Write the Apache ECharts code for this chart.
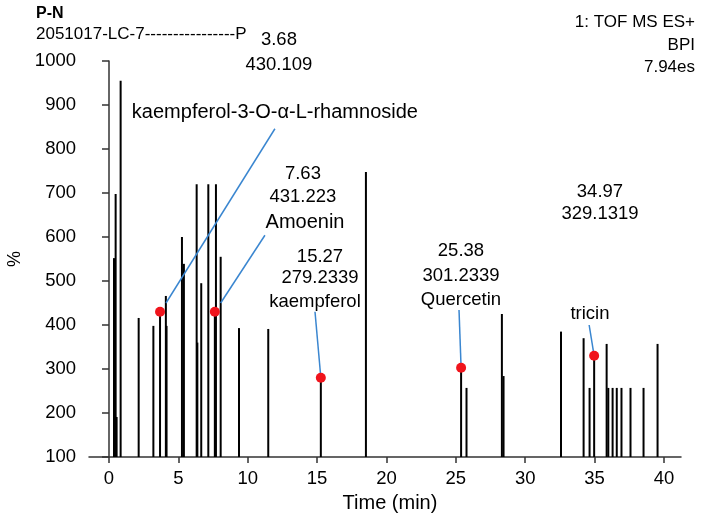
<!DOCTYPE html>
<html>
<head>
<meta charset="utf-8">
<script src="https://cdn.jsdelivr.net/npm/echarts@6/dist/echarts.min.js"></script>
<style>
  html, body { margin: 0; padding: 0; background: #fff; }
  #chart { width: 705px; height: 525px; }
</style>
</head>
<body>
<div id="chart"></div>
<script>
// peak retention times (min) and BPI intensities (%)
const peakTimes = [0.36, 0.48, 0.55, 0.84, 2.14, 3.2, 3.68, 4.1, 4.15, 5.26, 5.4, 6.32, 6.37, 6.65, 7.16, 7.63, 7.71, 8.05, 9.37, 11.48,
  15.27, 18.52, 25.38, 25.77, 28.32, 28.44, 32.58, 34.21, 34.64, 34.97, 35.87, 35.99, 36.3, 36.6, 36.94, 37.59, 38.53, 39.54];
const peakValues = [552, 698, 191, 955, 416, 398, 425, 466, 398, 600, 539, 720, 360, 495, 720, 430, 720, 555, 393, 391,
  280, 748, 303, 257, 425, 284, 385, 370, 257, 330, 357, 257, 257, 257, 257, 257, 257, 357];

// annotated compounds
const annoTimes = [3.68, 7.63, 15.27, 25.38, 34.97];
const annoValues = [430, 430, 280, 303, 330];
const annoRt = ['3.68', '7.63', '15.27', '25.38', '34.97'];
const annoMz = ['430.109', '431.223', '279.2339', '301.2339', '329.1319'];
const annoNames = ['kaempferol-3-O-α-L-rhamnoside', 'Amoenin', 'kaempferol', 'Quercetin', 'tricin'];

const xTicks = [0, 5, 10, 15, 20, 25, 30, 35, 40];

const FONT = '"Liberation Sans", Arial, sans-serif';

// where the labels sit (data coords) and the leader lines [x1, y1, x2, y2]
const textPos = [
  { rt: [12.25, 1047], mz: [12.25, 991], name: [11.96, 882], nameSize: 20 },
  { rt: [13.98, 743], mz: [13.98, 691], name: [14.13, 634], nameSize: 20 },
  { rt: [15.21, 555], mz: [15.21, 507], name: [14.85, 453], nameSize: 18.5 },
  { rt: [25.37, 568], mz: [25.37, 512], name: [25.37, 457], nameSize: 18.5 },
  { rt: [35.39, 702], mz: [35.39, 652], name: [34.67, 425], nameSize: 18.5 }
];
const leaders = [
  [4.11, 450, 11.96, 846],
  [8.05, 450, 11.24, 604],
  [14.85, 430, annoTimes[2], annoValues[2]],
  [25.23, 434, annoTimes[3], annoValues[3]],
  [34.61, 400, annoTimes[4], annoValues[4]]
];

const labelData = [];
annoNames.forEach((n, i) => {
  const p = textPos[i];
  labelData.push({ value: p.rt, text: annoRt[i], size: 18.5 });
  labelData.push({ value: p.mz, text: annoMz[i], size: 18.5 });
  labelData.push({ value: p.name, text: n, size: p.nameSize });
});

const chart = echarts.init(document.getElementById('chart'));
chart.setOption({
  animation: false,
  backgroundColor: '#fff',
  grid: { left: 89, right: 24, top: 61, bottom: 68, outerBoundsMode: 'none' },
  xAxis: {
    type: 'value',
    min: -1.44,
    max: 41.23,
    name: 'Time (min)',
    nameLocation: 'middle',
    nameGap: 36,
    nameTextStyle: { fontSize: 20, color: '#000', fontFamily: FONT, padding: [0, 0, 0, 10] },
    axisLine: { show: true, lineStyle: { color: '#333', width: 1.5 } },
    axisTick: { show: true, length: 6, lineStyle: { color: '#333', width: 1.5 }, customValues: xTicks },
    axisLabel: { fontSize: 18.5, color: '#000', fontFamily: FONT, margin: 12, customValues: xTicks },
    splitLine: { show: false }
  },
  yAxis: {
    type: 'value',
    min: 100,
    max: 1000,
    interval: 100,
    name: '%',
    nameLocation: 'middle',
    nameRotate: 90,
    nameGap: 60,
    nameTextStyle: { fontSize: 18, color: '#000', fontFamily: FONT },
    axisLine: { show: true, lineStyle: { color: '#333', width: 1.5 } },
    axisTick: { show: true, length: 7, lineStyle: { color: '#333', width: 1.5 } },
    axisLabel: { fontSize: 18.5, color: '#000', fontFamily: FONT, margin: 13, formatter: v => String(v) },
    splitLine: { show: false }
  },
  graphic: [
    { type: 'text', left: 36, top: 6, style: { text: 'P-N', fontSize: 16, fontWeight: 'bold', fill: '#000', fontFamily: FONT } },
    { type: 'text', left: 36, top: 26, style: { text: '2051017-LC-7----------------P', fontSize: 17, fill: '#000', fontFamily: FONT } },
    { type: 'text', x: 695, y: 22, style: { text: '1: TOF MS ES+', fontSize: 17, fill: '#000', fontFamily: FONT, align: 'right', verticalAlign: 'middle' } },
    { type: 'text', x: 695, y: 45, style: { text: 'BPI', fontSize: 17, fill: '#000', fontFamily: FONT, align: 'right', verticalAlign: 'middle' } },
    { type: 'text', x: 695, y: 67, style: { text: '7.94es', fontSize: 17, fill: '#000', fontFamily: FONT, align: 'right', verticalAlign: 'middle' } }
  ],
  series: [
    {
      name: 'peaks',
      type: 'custom',
      data: peakTimes.map((t, i) => [t, peakValues[i]]),
      encode: { x: 0, y: 1 },
      renderItem: function (params, api) {
        const top = api.coord([api.value(0), api.value(1)]);
        const base = api.coord([api.value(0), 100]);
        return {
          type: 'line',
          shape: { x1: top[0], y1: top[1], x2: base[0], y2: base[1] },
          style: { stroke: '#000', lineWidth: 2 }
        };
      },
      z: 2
    },
    {
      name: 'leaders',
      type: 'custom',
      data: leaders,
      encode: { x: [0, 2], y: [1, 3] },
      clip: false,
      renderItem: function (params, api) {
        const a = api.coord([api.value(0), api.value(1)]);
        const b = api.coord([api.value(2), api.value(3)]);
        return {
          type: 'line',
          shape: { x1: a[0], y1: a[1], x2: b[0], y2: b[1] },
          style: { stroke: '#3a86d0', lineWidth: 1.5 }
        };
      },
      z: 3
    },
    {
      name: 'marked',
      type: 'scatter',
      data: annoTimes.map((t, i) => [t, annoValues[i]]),
      symbolSize: 10,
      itemStyle: { color: '#f0141c', opacity: 1 },
      z: 5
    },
    {
      name: 'labels',
      type: 'scatter',
      clip: false,
      symbolSize: 0,
      itemStyle: { opacity: 1 },
      data: labelData.map(d => ({
        value: d.value,
        label: {
          show: true,
          position: 'inside',
          formatter: d.text,
          fontSize: d.size,
          color: '#000',
          fontFamily: FONT
        }
      })),
      z: 6
    }
  ]
});
</script>
</body>
</html>
